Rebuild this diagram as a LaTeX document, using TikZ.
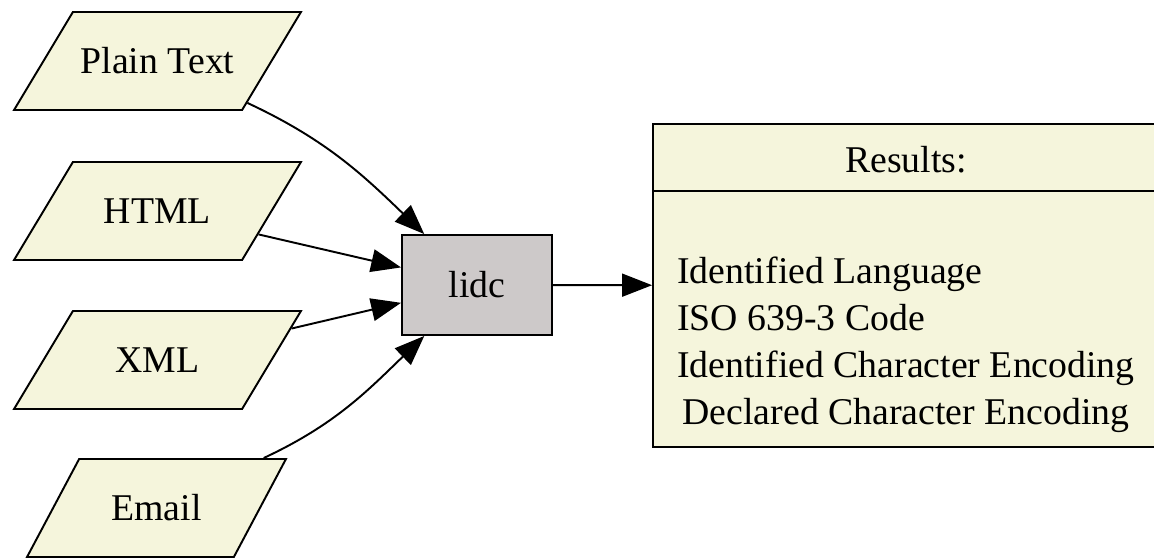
\documentclass[tikz,border=0pt]{standalone}
\usepackage{fontspec}
\setmainfont{Liberation Serif}
\usetikzlibrary{arrows.meta,shapes.geometric}
\definecolor{inbeige}{HTML}{F5F5DC}
\definecolor{toolgray}{HTML}{CDC9C9}
\tikzset{
  inputbox/.style={draw, line width=1.1pt, fill=inbeige, trapezium,
    trapezium left angle=59, trapezium right angle=121,
    trapezium stretches body, minimum width=5.74cm,
    text height=14pt, text depth=0pt, inner ysep=20.9pt, inner xsep=0pt},
  toolbox/.style={draw, line width=1.1pt, fill=toolgray, minimum width=3cm, minimum height=2cm},
  recordbox/.style={draw, line width=1.1pt, fill=inbeige, minimum width=10.12cm, minimum height=6.46cm},
  flow/.style={line width=1.1pt, -{Triangle[length=17pt,width=13pt]}},
}

\begin{document}
\begin{tikzpicture}[x=0.02cm, y=0.02cm, font=\fontsize{21.5}{26.7}\selectfont]
	%%%%% START %%%%%
	\useasboundingbox (0, 0) rectangle (1154, -558);
	
	% inputs
	\node[inputbox] (plain) at (157.5, -61) {Plain Text};
	\node[inputbox] (html) at (157.5, -211) {HTML};
	\node[inputbox] (xml) at (157.5, -360) {XML};
	\node[inputbox, trapezium left angle=62, trapezium right angle=118, minimum width=5.18cm] (email) at (156.5, -508) {Email};
	
	\node[toolbox] (lidc) at (477, -285) {lidc};
	
	% results record
	\node[recordbox] (res) at (906, -285.5) {};
	\draw[line width=1.1pt] (res.north west) ++(0, -68) -- ++(506, 0);
	\node (reshead) at (906, -160) {Results:};
	\node (resbody) at (906, -344.5) {\begin{tabular}{@{}l@{}}
		Identified Language\\
		ISO 639-3 Code\\
		Identified Character Encoding\\
		\multicolumn{1}{@{}c@{}}{Declared Character Encoding}
	\end{tabular}};
	
	\draw[flow] (plain) to[out=-25, in=136] (lidc);
	\draw[flow] (html) -- (lidc);
	\draw[flow] (xml) -- (lidc);
	\draw[flow] (email) to[out=25, in=-136] (lidc);
	\draw[flow] (lidc) -- (res);
	
	%%%%% END %%%%%
\end{tikzpicture}
\end{document}
